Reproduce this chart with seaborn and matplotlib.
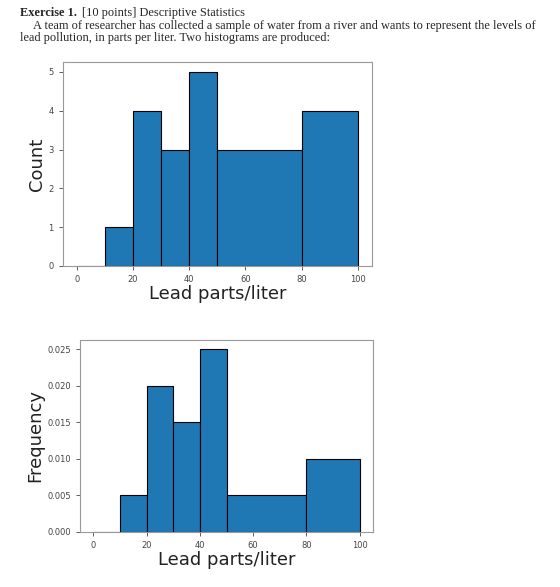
import numpy as np
import pandas as pd
import matplotlib
matplotlib.use("Agg")
import matplotlib.pyplot as plt
import seaborn as sns

# histogram data
bin_edges = [0, 10, 20, 30, 40, 50, 80, 100]
counts = [0, 1, 4, 3, 5, 3, 4]
bin_mids = [(a + b) / 2 for a, b in zip(bin_edges[:-1], bin_edges[1:])]
x_ticks = [0, 20, 40, 60, 80, 100]

df = pd.DataFrame({"lead": bin_mids, "n": counts})

sns.set_style("ticks")
plt.rcParams['font.family'] = ['DejaVu Sans']

fig = plt.figure(figsize=(5.6, 5.87), dpi=100)

# header text
serif = "Liberation Serif"
hs = 8.9
fig.text(20 / 560, 1 - 13 / 587, "Exercise 1.", family=serif, weight="bold", fontsize=hs, va="center")
fig.text(82 / 560, 1 - 13 / 587, "[10 points] Descriptive Statistics", family=serif, fontsize=hs, va="center")
fig.text(33 / 560, 1 - 26 / 587,
         "A team of researcher has collected a sample of water from a river and wants to represent the levels of",
         family=serif, fontsize=hs, va="center")
fig.text(20 / 560, 1 - 38 / 587, "lead pollution, in parts per liter. Two histograms are produced:",
         family=serif, fontsize=hs, va="center")

ax1 = fig.add_axes([0.112, 0.547, 0.552, 0.347])
ax2 = fig.add_axes([0.143, 0.094, 0.523, 0.327])

sns.histplot(data=df, x="lead", weights="n", bins=bin_edges, stat="count",
             color="#1f77b4", alpha=1, edgecolor="black", linewidth=0.8, ax=ax1)
sns.histplot(data=df, x="lead", weights="n", bins=bin_edges, stat="density",
             color="#1f77b4", alpha=1, edgecolor="black", linewidth=0.8, ax=ax2)

ax1.set_ylabel("Count", fontsize=13, color="#222222", labelpad=2)
ax2.set_ylabel("Frequency", fontsize=13, color="#222222", labelpad=2)
ax2.set_yticks([0, 0.005, 0.01, 0.015, 0.02, 0.025])
ax2.set_yticklabels(["0.000", "0.005", "0.010", "0.015", "0.020", "0.025"])

for ax in (ax1, ax2):
    ax.set_xlabel("Lead parts/liter", fontsize=13, color="#222222", labelpad=1)
    ax.set_xticks(x_ticks)
    ax.set_xlim(-5, 105)
    ax.tick_params(labelsize=6, colors="#444444", length=3, width=0.6)
    for s in ax.spines.values():
        s.set_visible(True)
        s.set_color("#999999")
        s.set_linewidth(0.8)

fig.savefig("out.png", dpi=100)
